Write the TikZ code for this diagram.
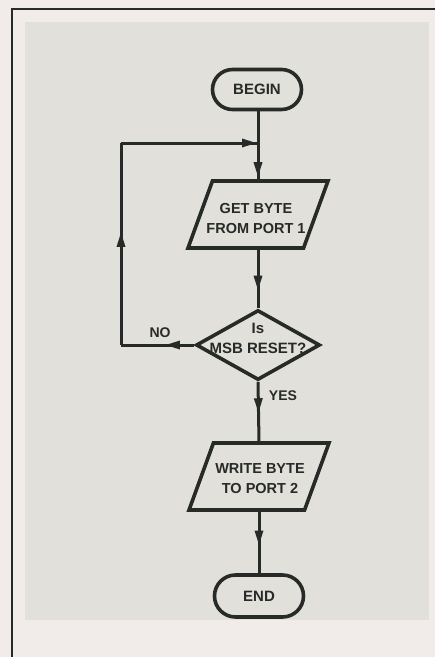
\documentclass[tikz,border=0pt]{standalone}
\usepackage{fontspec}
\setmainfont{Liberation Sans}
\usetikzlibrary{shapes.geometric,shapes.misc,arrows.meta,decorations.markings}
\definecolor{ink}{HTML}{262B27}
\definecolor{paper}{HTML}{F1ECEA}
\definecolor{screen}{HTML}{E2E0DB}
\tikzset{
  lbl/.style={font=\fontsize{15}{20}\selectfont\bfseries, text=ink, align=center, inner sep=0pt},
  term/.style={rounded rectangle, draw=ink, line width=3.6pt, minimum width=89pt, minimum height=40pt, lbl},
  io/.style={trapezium, trapezium left angle=75, trapezium right angle=105, trapezium stretches=true,
     draw=ink, line width=3.6pt, minimum width=140pt, minimum height=67pt, inner sep=2pt},
  dec/.style={diamond, draw=ink, line width=3.6pt, minimum width=124pt, minimum height=70pt, inner sep=0pt},
  flow/.style={draw=ink, line width=3pt},
  arrowat/.style={postaction={decorate}, decoration={markings, mark=at position #1 with {\arrow{Triangle[width=8pt,length=15pt]}}}},
  tag/.style={font=\fontsize{14}{16}\selectfont\bfseries, text=ink, inner sep=0pt}
}
\begin{document}
\begin{tikzpicture}[x=1pt,y=-1pt]
\useasboundingbox (0,0) rectangle (435,657);
\fill[paper] (0,0) rectangle (435,657);
\fill[screen] (25,22) rectangle (429,620);
\draw[ink, line width=2pt] (435,9) -- (12,9) -- (12,657);

\node[term] (begin) at (257,89.5) {BEGIN};
\node[io] (p1) at (258,214.5) {};
\node[lbl, font=\fontsize{14.5}{20}\selectfont\bfseries] (t1) at (256,219) {GET BYTE\\FROM PORT 1};
\node[dec] (d) at (258,345) {};
\node[lbl] (dt) at (258,338) {Is\\MSB RESET?};
\node[io] (p2) at (259,476.5) {};
\node[lbl, font=\fontsize{14.5}{20}\selectfont\bfseries] (t2) at (260,479) {WRITE BYTE\\TO PORT 2};
\node[term, minimum height=42pt] (end) at (259,596) {END};

\coordinate (c1) at (121,345);
\coordinate (c2) at (121,143);
\coordinate (j) at (258,143);

\draw[flow, arrowat=-2pt] (begin.south -| p1.north) -- (p1.north);
\draw[flow, arrowat=0.7] (p1.south) -- (d.north);
\draw[flow, arrowat=0.4] (d.west) -- (c1);
\draw[flow, arrowat=0.56] (c1) -- (c2);
\draw[flow, arrowat=-1pt] (c2) -- (j);
\draw[flow, arrowat=0.53] (d.south) -- (p2.north);
\draw[flow, arrowat=0.55] (p2.south) -- (end.north);

\node[tag] (no) at (160,333) {NO};
\node[tag] (yes) at (283,396) {YES};
\end{tikzpicture}
\end{document}
